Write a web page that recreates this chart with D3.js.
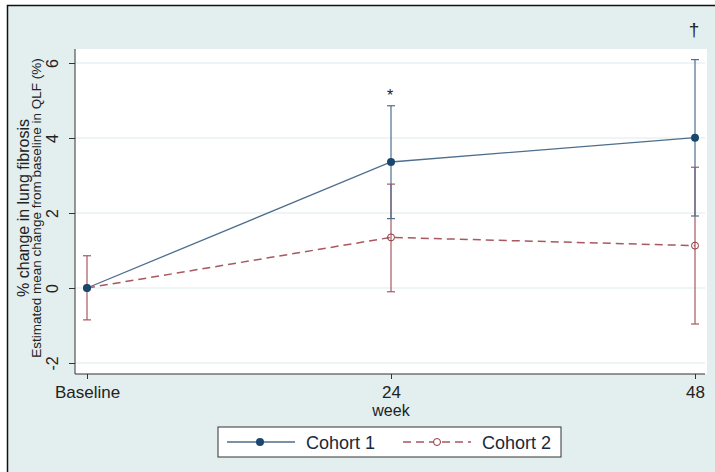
<!DOCTYPE html>
<html>
<head>
<meta charset="utf-8">
<script src="https://cdn.jsdelivr.net/npm/d3@7"></script>
<style>
  body { margin: 0; background: #fff; }
  svg { display: block; font-family: "Liberation Sans", Arial, sans-serif; }
</style>
</head>
<body>
<div id="chart"></div>
<script>
// data
const weeks = [0, 24, 48];
const weekLabels = ['Baseline', '24', '48'];
const yTicks = [-2, 0, 2, 4, 6];

const cohort1Mean = [0, 3.36, 4.01];
const cohort1Lo = [0, 1.85, 1.92];
const cohort1Hi = [0, 4.86, 6.09];

const cohort2Mean = [0, 1.35, 1.13];
const cohort2Lo = [-0.85, -0.10, -0.96];
const cohort2Hi = [0.86, 2.77, 3.22];

const seriesNames = ['Cohort 1', 'Cohort 2'];
const notes = [{ week: 24, value: 4.86, text: '*' }, { week: 48, value: 6.6, text: '\u2020' }];

const W = 715, H = 472;
const bg = '#e3eeee', navy = '#1a476f', navyLine = '#4f6d8c', maroon = '#90353b', maroonBar = '#a8585e';

const svg = d3.select('#chart').append('svg')
    .attr('width', W)
    .attr('height', H);

svg.append('rect')
    .attr('x', 7.5).attr('y', 5.5)
    .attr('width', W).attr('height', H)
    .style('fill', bg)
    .style('stroke', '#111')
    .style('stroke-width', '1.5px');

const plot = { l: 75, r: 707, t: 49, b: 374 };

svg.append('rect')
    .attr('x', plot.l).attr('y', plot.t)
    .attr('width', plot.r - plot.l).attr('height', plot.b - plot.t)
    .style('fill', '#fff');

const x = d3.scaleLinear().domain([0, 48]).range([87, 695]);
const y = d3.scaleLinear().domain([-2, 6]).range([363, 63]);

// grid
svg.append('g').selectAll('line').data(yTicks).join('line')
    .attr('x1', plot.l).attr('x2', plot.r - 2)
    .attr('y1', d => y(d)).attr('y2', d => y(d))
    .style('stroke', '#dcecef')
    .style('stroke-width', '1.2px');

// y axis
const yAxis = svg.append('g')
    .attr('transform', `translate(${plot.l},0)`)
    .call(d3.axisLeft(y).tickValues(yTicks).tickSize(6).tickFormat(d => String(d)));
yAxis.select('.domain').attr('d', `M0,${plot.t}V${plot.b}`).style('stroke', '#333');
yAxis.selectAll('.tick line').style('stroke', '#333');
yAxis.selectAll('.tick text')
    .attr('x', 0).attr('dy', 0)
    .attr('transform', 'translate(-17,0) rotate(-90)')
    .attr('text-anchor', 'middle')
    .style('font-size', '16px')
    .style('fill', '#222');

// x axis
const xAxis = svg.append('g')
    .attr('transform', `translate(0,${plot.b})`)
    .call(d3.axisBottom(x).tickValues(weeks).tickSize(5).tickFormat((d, i) => weekLabels[i]));
xAxis.select('.domain').attr('d', `M${plot.l},0H${plot.r - 2}`).style('stroke', '#333');
xAxis.selectAll('.tick line').style('stroke', '#333');
xAxis.selectAll('.tick text')
    .attr('y', 23.5).attr('dy', 0)
    .style('font-size', '17px')
    .style('fill', '#222');

svg.append('text')
    .attr('x', x(24)).attr('y', 416)
    .attr('text-anchor', 'middle')
    .style('font-size', '16px')
    .style('fill', '#222')
    .text('week');

// y titles
const cy = 208;
svg.append('text')
    .attr('transform', `translate(29,${cy}) rotate(-90)`)
    .attr('text-anchor', 'middle')
    .style('font-size', '16px')
    .style('fill', '#222')
    .text('% change in lung fibrosis');
svg.append('text')
    .attr('transform', `translate(41,${cy}) rotate(-90)`)
    .attr('text-anchor', 'middle')
    .style('font-size', '13.5px')
    .style('fill', '#222')
    .text('Estimated mean change from baseline in QLF (%)');

const rows = (mean, lo, hi) => weeks.map((w, i) => ({ w, m: mean[i], lo: lo[i], hi: hi[i] }));
const c1 = rows(cohort1Mean, cohort1Lo, cohort1Hi);
const c2 = rows(cohort2Mean, cohort2Lo, cohort2Hi);

function errorBars(data, color) {
    const g = svg.append('g').style('stroke', color).style('stroke-width', '1.2px');
    const d = data.filter(r => r.hi !== r.lo);
    g.selectAll('.v').data(d).join('line')
        .attr('x1', r => x(r.w)).attr('x2', r => x(r.w))
        .attr('y1', r => y(r.lo)).attr('y2', r => y(r.hi));
    g.selectAll('.cap').data(d.flatMap(r => [[r.w, r.lo], [r.w, r.hi]])).join('line')
        .attr('x1', r => x(r[0]) - 4).attr('x2', r => x(r[0]) + 4)
        .attr('y1', r => y(r[1])).attr('y2', r => y(r[1]));
}

errorBars(c2, maroonBar);
errorBars(c1, navyLine);

const line = d3.line().x(r => x(r.w)).y(r => y(r.m));

svg.append('path').datum(c2)
    .attr('d', line)
    .style('fill', 'none')
    .style('stroke', maroonBar)
    .style('stroke-width', '1.5px')
    .style('stroke-dasharray', '8,5');

svg.append('path').datum(c1)
    .attr('d', line)
    .style('fill', 'none')
    .style('stroke', navyLine)
    .style('stroke-width', '1.3px');

svg.selectAll('.m2').data(c2).join('circle')
    .attr('cx', r => x(r.w)).attr('cy', r => y(r.m)).attr('r', 3.5)
    .style('fill', 'none').style('stroke', maroon).style('stroke-width', '1px');

svg.selectAll('.m1').data(c1).join('circle')
    .attr('cx', r => x(r.w)).attr('cy', r => y(r.m)).attr('r', 4)
    .style('fill', navy);

// significance marks
svg.selectAll('.note').data(notes).join('text')
    .attr('x', d => x(d.week) - 1)
    .attr('y', (d, i) => i === 0 ? y(d.value) - 5 : 36)
    .attr('text-anchor', 'middle')
    .style('font-size', (d, i) => i === 0 ? '16px' : '19px')
    .style('fill', '#222')
    .text(d => d.text);

// legend
const lg = svg.append('g').attr('transform', 'translate(218,427)');
lg.append('rect')
    .attr('width', 343).attr('height', 30)
    .style('fill', '#fff').style('stroke', '#333').style('stroke-width', '1px');
lg.append('line').attr('x1', 9).attr('x2', 77).attr('y1', 15).attr('y2', 15)
    .style('stroke', navyLine).style('stroke-width', '1.5px');
lg.append('circle').attr('cx', 42).attr('cy', 15).attr('r', 4).style('fill', navy);
lg.append('line').attr('x1', 185).attr('x2', 253).attr('y1', 15).attr('y2', 15)
    .style('stroke', maroonBar).style('stroke-width', '1.5px').style('stroke-dasharray', '8,5');
lg.append('circle').attr('cx', 219).attr('cy', 15).attr('r', 3.5)
    .style('fill', '#fff').style('stroke', maroon).style('stroke-width', '1px');
lg.selectAll('.lt').data(seriesNames).join('text')
    .attr('x', (d, i) => i === 0 ? 88 : 264)
    .attr('y', 21.5)
    .style('font-size', '18px')
    .style('fill', '#1a2a3a')
    .text(d => d);
</script>
</body>
</html>
